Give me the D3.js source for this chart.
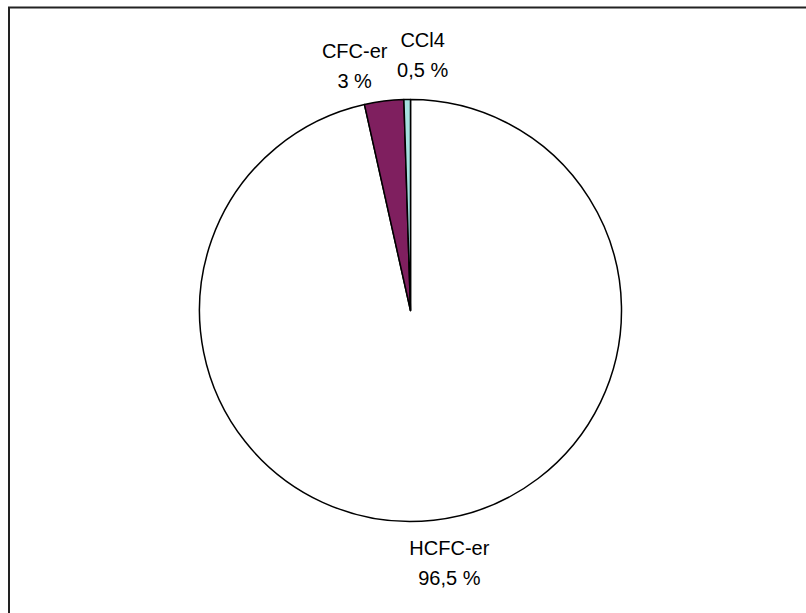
<!DOCTYPE html>
<html>
<head>
<meta charset="utf-8">
<script src="https://cdn.jsdelivr.net/npm/d3@7"></script>
<style>
  html, body { margin: 0; padding: 0; background: #fff; }
  svg { display: block; }
  text { font-family: "Liberation Sans", Arial, sans-serif; fill: #000; }
</style>
</head>
<body>
<svg id="chart" width="806" height="613"></svg>
<script>
// Share of ozone-depleting substances
const categories = ["HCFC-er", "CFC-er", "CCl4"];
const shares = [96.5, 3, 0.5];
const valueLabels = ["96,5 %", "3 %", "0,5 %"];

const colors = ["#ffffff", "#7f1f5f", "#a6e1e1"];
// small angular nudges (degrees) so the top labels don't collide
const labelNudge = [-2.5, -5.6, 3.6];
// extra radial offset per label (px)
const labelPush = [0, -2, 3];

const W = 806, H = 613;
const cx = 410.5, cy = 310.5, R = 211;
const labelR = 254;

const svg = d3.select("#chart");

// chart area frame
svg.append("rect")
  .attr("x", 9).attr("y", 7.5)
  .attr("width", W).attr("height", H)
  .attr("fill", "none")
  .attr("stroke", "#222")
  .attr("stroke-width", 2);

const data = categories.map((c, i) => ({
  name: c, value: shares[i], label: valueLabels[i],
  color: colors[i], nudge: labelNudge[i], push: labelPush[i]
}));

const pie = d3.pie().value(d => d.value).sort(null);
const arcs = pie(data);
const arc = d3.arc().innerRadius(0).outerRadius(R);

const g = svg.append("g").attr("transform", `translate(${cx},${cy})`);

g.selectAll("path.slice")
  .data(arcs)
  .join("path")
  .attr("class", "slice")
  .attr("d", arc)
  .attr("fill", d => d.data.color)
  .attr("stroke", "#000")
  .attr("stroke-width", 1.5)
  .attr("stroke-linejoin", "round");

const labels = g.selectAll("g.label")
  .data(arcs)
  .join("g")
  .attr("class", "label")
  .attr("transform", d => {
    const a = (d.startAngle + d.endAngle) / 2 + d.data.nudge * Math.PI / 180;
    const r = labelR + d.data.push;
    return `translate(${Math.sin(a) * r},${-Math.cos(a) * r})`;
  });

labels.append("text")
  .attr("text-anchor", "middle")
  .attr("y", -7)
  .attr("font-size", 20)
  .text(d => d.data.name);

labels.append("text")
  .attr("text-anchor", "middle")
  .attr("y", 23)
  .attr("font-size", 20)
  .text(d => d.data.label);
</script>
</body>
</html>
